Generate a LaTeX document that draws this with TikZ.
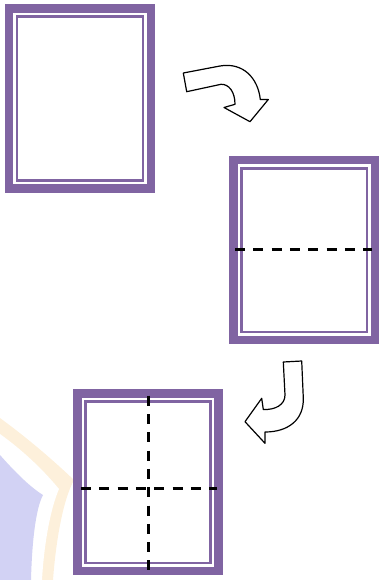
\documentclass[tikz,border=0pt]{standalone}
\usetikzlibrary{calc}
\definecolor{framepurple}{HTML}{8064A2}
\definecolor{wmlav}{HTML}{D2D2F4}
\definecolor{wmorange}{HTML}{FDF0DB}
\begin{document}
\begin{tikzpicture}[x=1pt,y=-1pt,
  outerframe/.style={draw=framepurple, line width=8.3, fill=white, inner sep=0, outer sep=0,
     minimum width=141.7, minimum height=180},
  innerframe/.style={draw=framepurple, line width=2.4, inner sep=0, outer sep=0,
     minimum width=125.6, minimum height=163.6},
  fold/.style={draw=black, line width=2.6, dash pattern=on 10pt off 8.3pt},
  bentarrow/.style={draw=black, line width=1.2, fill=white, line join=round}]
\useasboundingbox (0,0) rectangle (382,580);
% watermark
\fill[wmorange] (0,418) .. controls (30,440) and (55,462) .. (74,480) .. controls (63,500) and (56,540) .. (53,580) -- (0,580) -- cycle;
\fill[white] (0,434) .. controls (25,452) and (45,472) .. (59,489) .. controls (50,510) and (44,545) .. (42,580) -- (0,580) -- cycle;
\fill[wmlav] (0,455) .. controls (15,472) and (30,487) .. (43,495) .. controls (36,508) and (32,540) .. (31,580) -- (0,580) -- cycle;
% frames
\node[outerframe] (f1) at (80,98.5) {};
\node[innerframe] (f1i) at (f1.center) {};
\node[outerframe] (f2) at (304.2,250.2) {};
\node[innerframe] (f2i) at (f2.center) {};
\node[outerframe, minimum width=141.1, minimum height=177.4] (f3) at (148,482.2) {};
\node[innerframe, minimum width=125, minimum height=161.3] (f3i) at (f3.center) {};
% fold lines
\coordinate (h2a) at (235,249.3);
\coordinate (h2b) at (371.7,249.3);
\draw[fold] (h2a) -- (h2b);
\coordinate (h3a) at (81,488.3);
\coordinate (h3b) at (216.7,488.3);
\coordinate (v3a) at (148.3,395.7);
\coordinate (v3b) at (148.3,570.7);
\draw[fold] (h3a) -- (h3b);
\draw[fold] (v3a) -- (v3b);
% arrows
\draw[bentarrow] (183.3,73) -- (220,66) .. controls (243,62) and (258,78) .. (260.3,99.5)
  -- (268.3,99.5) -- (250,121.7) -- (224,107.5) -- (235,104.3)
  .. controls (235,92) and (229,84) .. (221,84.3) -- (186.7,91.7) -- cycle;
\draw[bentarrow] (283.3,362) -- (301.7,361) -- (303.3,398)
  .. controls (304,420) and (288,432) .. (265,432) -- (265,443.3) -- (245,421.7)
  -- (261.7,398.3) -- (263.3,409.5) .. controls (275,410) and (285,405) .. (285,395) -- cycle;
\end{tikzpicture}
\end{document}
